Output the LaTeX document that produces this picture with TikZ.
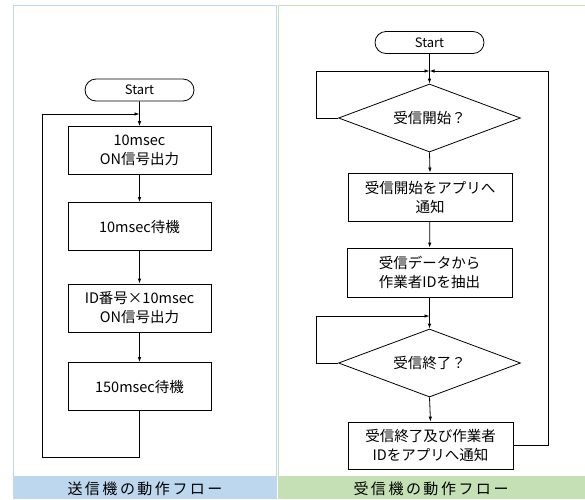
\documentclass[tikz,border=0pt]{standalone}
\usepackage{fontspec}
\setmainfont{Noto Sans CJK JP}
\usetikzlibrary{shapes.geometric,shapes.misc,arrows.meta}
\definecolor{bandblue}{HTML}{BDD7EE}
\definecolor{bandgreen}{HTML}{C5E0B4}
\begin{document}
\begin{tikzpicture}[x=1pt,y=-1pt,
  every node/.style={font=\fontsize{14.5}{19}\selectfont, inner sep=0pt, align=center},
  proc/.style={draw, line width=0.8pt, rectangle, minimum width=#1, minimum height=48},
  proc/.default=143,
  term/.style={draw, line width=0.8pt, rounded rectangle, minimum width=109, minimum height=22, font=\fontsize{13}{15}\selectfont},
  dec/.style={draw, line width=0.8pt, diamond, aspect=2.68, minimum width=182, minimum height=68},
  flow/.style={line width=0.8pt},
  arr/.style={flow, -{Latex[length=5pt,width=3.5pt]}},
  title/.style={font=\fontsize{15}{17}\selectfont}]
\useasboundingbox (0,0) rectangle (585,499);
% panels
\fill[white] (0,0) rectangle (585,499);
\draw[bandblue, line width=1.2pt] (13.5,476) -- (13.5,5.5) -- (276.5,5.5) -- (276.5,476);
\draw[bandgreen, line width=1.2pt] (278.5,476) -- (278.5,5.5) -- (585,5.5);
\fill[bandblue] (13,476) rectangle (277,499);
\fill[bandgreen] (277.6,476) rectangle (585,499);
\node[title] (ltitle) at (145,489) {送\,信\,機\,の\,動\,作\,フ\,ロ\,ー};
\node[title] (rtitle) at (431,489) {受\,信\,機\,の\,動\,作\,フ\,ロ\,ー};
% left flow
\node[term] (ls) at (139.5,90) {Start};
\node[proc] (l1) at (139.5,150.5) {10msec\\ON信号出力};
\node[proc] (l2) at (139.5,226.5) {10msec待機};
\node[proc] (l3) at (139.5,308) {ID番号×10msec\\ON信号出力};
\node[proc] (l4) at (139.5,386.5) {150msec待機};
\coordinate (lj) at (139.5,114);
\draw[arr] (ls) -- (l1);
\draw[arr] (l1) -- (l2);
\draw[arr] (l2) -- (l3);
\draw[arr] (l3) -- (l4);
\draw[arr] (l4.south) -- (139.5,457) -- (42,457) -- (42,114) -- (lj);
% right flow
\node[term] (rs) at (429.5,42.5) {Start};
\coordinate (rj1) at (429.5,71);
\node[dec] (d1) at (429.5,118) {受信開始？};
\node[proc=164] (r1) at (430,197) {受信開始をアプリへ\\通知};
\node[proc=165, minimum height=49] (r2) at (429.5,272.5) {受信データから\\作業者IDを抽出};
\coordinate (rj2) at (429.5,316);
\node[dec] (d2) at (429.5,363) {受信終了？};
\node[proc=165, minimum height=47] (r3) at (430.5,445.5) {受信終了及び作業者\\IDをアプリへ通知};
\draw[flow] (rs) -- (rj1);
\draw[arr] (rj1) -- (d1.north);
\draw[arr] (d1.west) -- (316,118) -- (316,71) -- (rj1);
\draw[arr] (r3.east) -- (548,445.5) -- (548,71) -- (rj1);
\draw[arr] (d1.south) -- (r1.north);
\draw[arr] (r1) -- (r2);
\draw[flow] (r2.south) -- (rj2);
\draw[arr] (rj2) -- (d2.north);
\draw[arr] (d2.west) -- (316,363) -- (316,316) -- (rj2);
\draw[arr] (d2.south) -- (r3.north);
\end{tikzpicture}
\end{document}
